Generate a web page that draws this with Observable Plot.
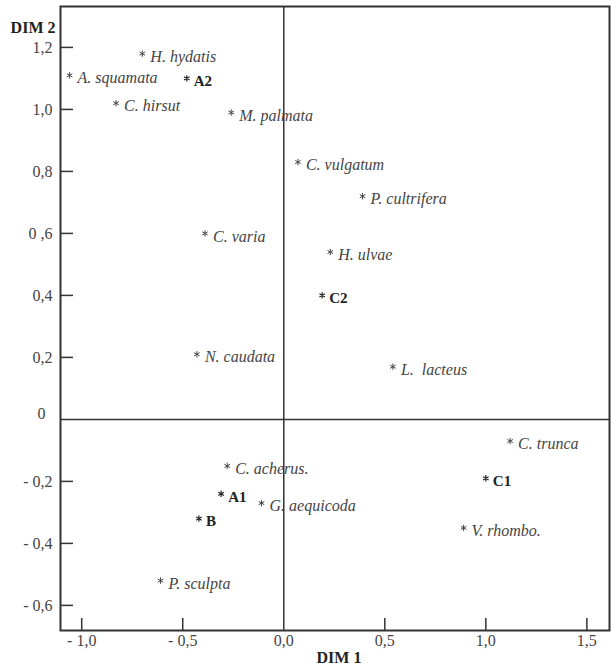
<!DOCTYPE html>
<html><head><meta charset="utf-8">
<script src="https://cdn.jsdelivr.net/npm/d3@7"></script>
<script src="https://cdn.jsdelivr.net/npm/@observablehq/plot@0.6"></script>
<style>html,body{margin:0;padding:0;background:#fff} svg{display:block}</style>
</head><body><div id="chart"></div>
<script>
// Species (italic labels)
const speciesNames = ["H. hydatis","A. squamata","C. hirsut","M. palmata","C. vulgatum","P. cultrifera","C. varia","H. ulvae","N. caudata","L.  lacteus","C. trunca","C. acherus.","G. aequicoda","V. rhombo.","P. sculpta"];
const speciesDim1 = [-0.70,-1.06,-0.83,-0.26,0.07,0.39,-0.39,0.23,-0.43,0.54,1.12,-0.28,-0.11,0.89,-0.61];
const speciesDim2 = [1.18,1.11,1.02,0.99,0.83,0.72,0.60,0.54,0.21,0.17,-0.07,-0.15,-0.27,-0.35,-0.52];
// Stations (bold labels)
const stationNames = ["A2","C2","C1","A1","B"];
const stationDim1 = [-0.48,0.19,1.00,-0.31,-0.42];
const stationDim2 = [1.10,0.40,-0.19,-0.24,-0.32];
// Axis ticks
const xTickValues = [-1,-0.5,0,0.5,1,1.5];
const xTickLabels = ["- 1,0","- 0,5","0,0","0,5","1,0","1,5"];
const yTickValues = [1.2,1.0,0.8,0.6,0.4,0.2,0,-0.2,-0.4,-0.6];
const yTickLabels = ["1,2","1,0","0,8","0 ,6","0,4","0,2","0","- 0,2","- 0,4","- 0,6"];

const species = speciesNames.map((n,i)=>({name:n, x:speciesDim1[i], y:speciesDim2[i]}));
const stations = stationNames.map((n,i)=>({name:n, x:stationDim1[i], y:stationDim2[i]}));
const xTicks = xTickValues.map((v,i)=>({v, label:xTickLabels[i]}));
const yTicks = yTickValues.map((v,i)=>({v, label:yTickLabels[i]}));

const W = 611, H = 668, mL = 60, mR = 2, mT = 6, mB = 38;
const frameW = W - mL - mR, frameH = H - mT - mB;
const ink = "#333";
const font = "'Liberation Serif','Times New Roman',serif";

const chart = Plot.plot({
  width: W, height: H,
  marginLeft: mL, marginRight: mR, marginTop: mT, marginBottom: mB,
  x: {domain: [-1.105, 1.612], axis: null},
  y: {domain: [-0.681, 1.332], axis: null},
  style: {fontFamily: font, background: "#fff"},
  marks: [
    Plot.ruleX([0], {stroke: ink, strokeWidth: 1.5}),
    Plot.ruleY([0], {stroke: ink, strokeWidth: 1.5}),
    Plot.tickX(xTicks.filter(d=>d.v!==0), {x:"v", stroke: ink, strokeWidth: 1.5, insetTop: frameH - 12}),
    Plot.tickY(yTicks.filter(d=>d.v!==0), {y:"v", stroke: ink, strokeWidth: 1.5, insetRight: frameW - 13}),
    Plot.frame({stroke: ink, strokeWidth: 2}),
    Plot.text(xTicks, {x:"v", text:"label", frameAnchor:"bottom", lineAnchor:"top", dy: 4, fontSize: 16, fill: "#444"}),
    Plot.text(yTicks.filter(d=>d.v!==0), {y:"v", text:"label", frameAnchor:"left", textAnchor:"end", dx: -8, fontSize: 16, fill: "#444"}),
    Plot.text(yTicks.filter(d=>d.v===0), {y:"v", text:"label", frameAnchor:"left", textAnchor:"end", dx: -15, dy: -6, fontSize: 16, fill: "#444"}),
    Plot.text(["DIM 1"], {text: d=>d, frameAnchor:"bottom", lineAnchor:"top", dx: 4, dy: 21, fontSize: 16, fontWeight: "bold", fill: "#222"}),
    Plot.text(["DIM 2"], {text: d=>d, frameAnchor:"top-left", textAnchor:"end", lineAnchor:"middle", dx: -5, dy: 21, fontSize: 16, fontWeight: "bold", fill: "#222"}),
    Plot.dot(species, {x:"x", y:"y", symbol:"asterisk", r: 3, stroke: "#444", strokeWidth: 1}),
    Plot.dot(stations, {x:"x", y:"y", symbol:"asterisk", r: 3, stroke: "#222", strokeWidth: 1.2}),
    Plot.text(species, {x:"x", y:"y", text:"name", textAnchor:"start", dx: 8, dy: 3, fontSize: 16, fontStyle:"italic", fill:"#444"}),
    Plot.text(stations, {x:"x", y:"y", text:"name", textAnchor:"start", dx: 7, dy: 3, fontSize: 15, fontWeight:"bold", fill:"#222"})
  ]
});
document.getElementById("chart").appendChild(chart);
</script>
</body></html>
